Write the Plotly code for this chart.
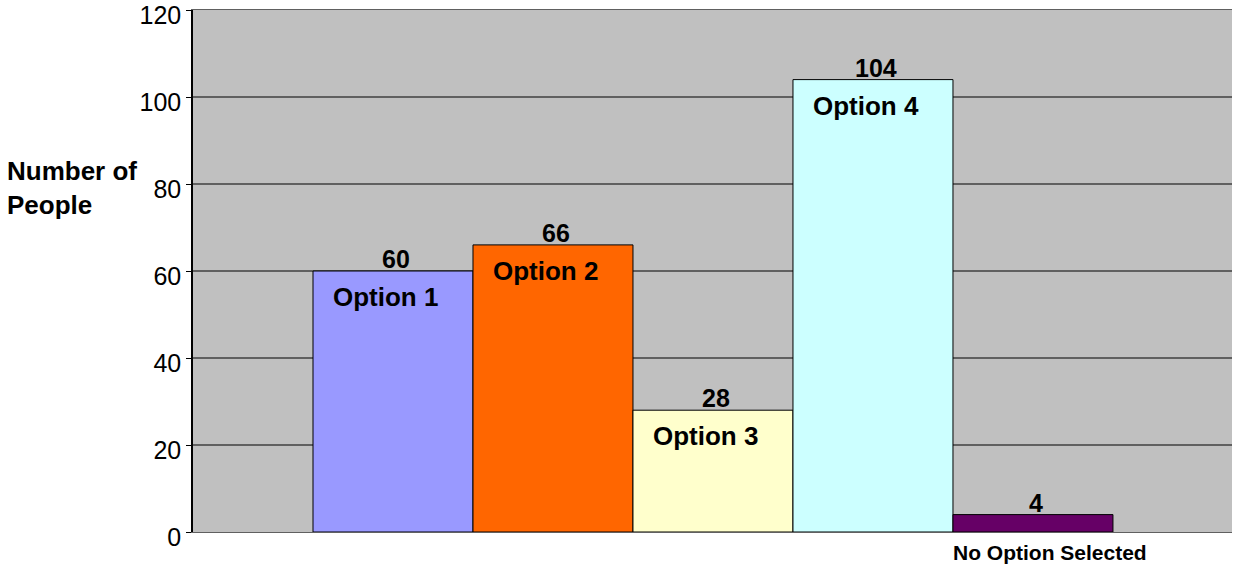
import plotly.graph_objects as go

categories = ["Option 1", "Option 2", "Option 3", "Option 4", "No Option Selected"]
values = [60, 66, 28, 104, 4]
colors = ["#9999FF", "#FF6600", "#FFFFCC", "#CCFFFF", "#660066"]
y_ticks = [0, 20, 40, 60, 80, 100, 120]

FONT = "Liberation Sans, Arial, sans-serif"
xpos = list(range(len(categories)))

fig = go.Figure()
fig.add_trace(go.Bar(
    x=xpos, y=values, width=1,
    marker=dict(color=colors, line=dict(color="black", width=1)),
    hoverinfo="skip",
))

annotations = []
for i, (c, v) in enumerate(zip(categories, values)):
    annotations.append(dict(x=i, y=v, text=f"<b>{v}</b>", showarrow=False,
                            yanchor="middle", yshift=12, xshift=3,
                            font=dict(family=FONT, size=25, color="black")))
    if i < 4:
        annotations.append(dict(x=i, y=v, text=f"<b>{c}</b>", showarrow=False,
                                yanchor="middle", yshift=-26, xshift=-7,
                                font=dict(family=FONT, size=26, color="black")))
    else:
        annotations.append(dict(x=i, xref="x", y=0, yref="paper", text=f"<b>{c}</b>",
                                showarrow=False, yanchor="middle", yshift=-20, xshift=17,
                                font=dict(family=FONT, size=21, color="black")))

annotations.append(dict(x=0, xref="paper", xshift=-188, xanchor="left", y=80, yref="y",
                        yshift=-4, align="left", yanchor="middle",
                        text="<b>Number of<br>People</b>", showarrow=False,
                        font=dict(family=FONT, size=26, color="black")))

fig.update_layout(
    width=1236, height=565,
    margin=dict(l=193, r=4, t=10, b=33, autoexpand=False),
    paper_bgcolor="white", plot_bgcolor="#C0C0C0",
    showlegend=False,
    annotations=annotations,
    xaxis=dict(range=[-1.25, 5.244], showticklabels=False, showgrid=False,
               zeroline=False, showline=True, linecolor="#606060", linewidth=1,
               mirror=True, ticks="", automargin=False),
    yaxis=dict(range=[0, 120.001], tickvals=y_ticks, showgrid=True, gridcolor="#606060",
               gridwidth=1.5, zeroline=False, showline=True, linecolor="black",
               linewidth=1.5, ticks="outside", ticklen=5, tickcolor="black",
               ticklabelshift=5, ticklabelstandoff=0, automargin=False,
               tickfont=dict(family=FONT, size=25, color="black")),
    font=dict(family=FONT),
)

fig.write_html("out.html", config={"displayModeBar": False},
               post_script="document.body.style.margin='0';document.body.style.overflow='hidden';")
